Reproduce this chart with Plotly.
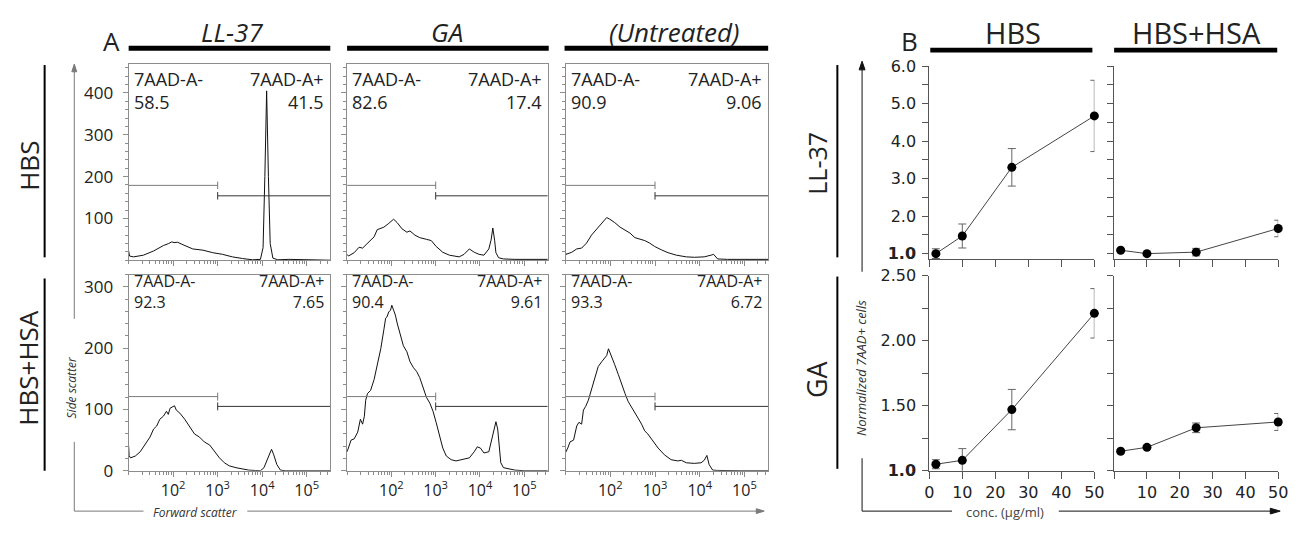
import math
import plotly.graph_objects as go

W, H = 1314, 533          # browser window
PAD = 8                   # default page body margin
FW, FH = W - 2 * PAD, H - 2 * PAD

# ---------------- Panel A data: flow histograms ----------------
# x = forward scatter (log10 decades), y = side-scatter count
ll37_hbs_fsc = [1.00, 1.02, 1.11, 1.33, 1.56, 1.78, 1.90, 1.97, 2.02, 2.10, 2.22, 2.44, 2.67, 2.89, 3.11, 3.33,
                3.56, 3.78, 3.96, 4.02, 4.06, 4.10, 4.14, 4.18, 4.24, 4.35, 4.60, 5.00, 5.53]
ll37_hbs_cnt = [22, 10, 8, 12, 22, 35, 40, 44, 42, 43, 37, 27, 24, 18, 14, 8,
                4, 1, 2, 30, 200, 405, 200, 40, 5, 1, 2, 1, 0]

ga_hbs_fsc = [1.00, 1.03, 1.16, 1.27, 1.35, 1.46, 1.61, 1.68, 1.83, 1.94, 2.05, 2.13, 2.24, 2.35, 2.42, 2.53,
              2.64, 2.79, 2.90, 3.01, 3.16, 3.31, 3.53, 3.64, 3.76, 3.87, 3.98, 4.09, 4.20, 4.25, 4.29, 4.33,
              4.36, 4.42, 4.53, 4.79, 5.53]
ga_hbs_cnt = [14, 10, 18, 31, 29, 41, 56, 73, 79, 88, 98, 90, 75, 67, 70, 60,
              54, 50, 47, 33, 19, 12, 8, 14, 27, 19, 14, 12, 27, 48, 77, 48,
              18, 6, 3, 2, 2]

unt_hbs_fsc = [1.00, 1.01, 1.14, 1.25, 1.36, 1.47, 1.58, 1.70, 1.81, 1.92, 1.99, 2.10, 2.22, 2.33, 2.44, 2.55,
               2.66, 2.77, 2.88, 2.99, 3.14, 3.29, 3.48, 3.70, 3.88, 4.10, 4.25, 4.31, 4.40, 4.62, 5.53]
unt_hbs_cnt = [18, 14, 19, 27, 29, 41, 60, 75, 90, 102, 98, 90, 79, 71, 65, 54,
               50, 47, 41, 33, 25, 18, 12, 8, 7, 8, 12, 14, 3, 2, 2]

ll37_hsa_fsc = [1.00, 1.01, 1.04, 1.15, 1.26, 1.37, 1.48, 1.56, 1.63, 1.70, 1.78, 1.85, 1.89, 1.93, 2.00, 2.03,
                2.07, 2.15, 2.26, 2.37, 2.48, 2.59, 2.70, 2.82, 2.93, 3.04, 3.15, 3.26, 3.41, 3.56, 3.70, 3.85,
                3.96, 4.04, 4.11, 4.21, 4.26, 4.33, 4.41, 4.52, 5.53]
ll37_hsa_cnt = [40, 25, 21, 24, 31, 42, 55, 68, 73, 84, 89, 97, 92, 102, 105, 106,
                99, 94, 84, 73, 60, 55, 47, 42, 31, 21, 13, 8, 5, 3, 1, 0.4,
                0, 5, 18, 35, 26, 10, 1, 0, 0]

ga_hsa_fsc = [1.00, 1.03, 1.09, 1.16, 1.24, 1.30, 1.35, 1.39, 1.42, 1.46, 1.53, 1.61, 1.68, 1.76, 1.83, 1.87,
              1.90, 1.94, 1.98, 2.01, 2.05, 2.09, 2.13, 2.16, 2.20, 2.27, 2.35, 2.42, 2.50, 2.57, 2.64, 2.72,
              2.79, 2.87, 2.94, 3.01, 3.09, 3.16, 3.24, 3.35, 3.46, 3.61, 3.76, 3.87, 3.94, 4.01, 4.09, 4.20,
              4.27, 4.33, 4.36, 4.40, 4.44, 4.47, 4.53, 4.64, 4.79, 5.01, 5.53]
ga_hsa_cnt = [31, 37, 50, 52, 63, 84, 76, 89, 115, 126, 131, 149, 173, 199, 230, 249,
              251, 259, 262, 270, 262, 254, 241, 233, 220, 204, 194, 178, 168, 162, 152, 136,
              120, 110, 97, 79, 58, 37, 24, 18, 16, 18, 21, 31, 39, 37, 29, 31,
              52, 73, 80, 68, 37, 13, 5, 3, 1, 0, 0]

unt_hsa_fsc = [1.00, 1.01, 1.05, 1.10, 1.18, 1.25, 1.30, 1.36, 1.40, 1.45, 1.51, 1.59, 1.66, 1.73, 1.81, 1.87,
               1.92, 1.96, 1.99, 2.04, 2.10, 2.18, 2.25, 2.33, 2.40, 2.47, 2.55, 2.62, 2.70, 2.77, 2.84, 2.96,
               3.07, 3.21, 3.36, 3.51, 3.59, 3.70, 3.88, 4.03, 4.10, 4.16, 4.21, 4.29, 4.40, 4.92, 5.53]
unt_hsa_cnt = [35, 31, 37, 47, 50, 73, 79, 76, 99, 105, 115, 136, 152, 170, 178, 183,
               188, 199, 194, 183, 173, 157, 141, 126, 113, 105, 94, 86, 76, 65, 60, 47,
               37, 26, 18, 16, 17, 13, 12, 13, 17, 25, 10, 1, 0.5, 0, 0]

treatments = ["LL-37", "GA", "(Untreated)"]
buffers = ["HBS", "HBS+HSA"]
pct_neg = [["58.5", "82.6", "90.9"], ["92.3", "90.4", "93.3"]]
pct_pos = [["41.5", "17.4", "9.06"], ["7.65", "9.61", "6.72"]]
gate_bounds = [1.0, 3.0, 5.53]          # FSC decades: gate start, split, end
gate_levels = [[179, 154], [121, 105]]  # y level of 7AAD-A- / 7AAD-A+ gate bars per row
fsc_ticks = [2, 3, 4, 5]
fsc_ticktext = ["10<sup>2</sup>", "10<sup>3</sup>", "10<sup>4</sup>", "10<sup>5</sup>"]

# ---------------- Panel B data ----------------
conc = [2, 10, 25, 50]
ll37_hbs_norm = [1.00, 1.47, 3.30, 4.67]
ll37_hbs_err = [0.13, 0.32, 0.50, 0.95]
ll37_hsa_norm = [1.09, 1.00, 1.04, 1.67]
ll37_hsa_err = [0.03, 0.0, 0.10, 0.22]
ga_hbs_norm = [1.05, 1.08, 1.47, 2.21]
ga_hbs_err = [0.035, 0.09, 0.155, 0.19]
ga_hsa_norm = [1.15, 1.18, 1.33, 1.375]
ga_hsa_err = [0.012, 0.012, 0.037, 0.065]

# ---------------- helpers (window pixel -> paper) ----------------
def X(px):
    return (px - PAD) / FW

def Y(py):
    return 1 - (py - PAD) / FH

def xd(l, r):
    return [X(l), X(r)]

def yd(t, b):
    return [Y(b), Y(t)]

def aname(kind, i):
    return f"{kind}axis" if i == 1 else f"{kind}axis{i}"

def aref(kind, i):
    return kind if i == 1 else f"{kind}{i}"

FONT = "Open Sans"
TXT = "#222222"
fig = go.Figure()
layout = {}

# ---------------- Panel A axes ----------------
col_px = [(125, 329), (346, 549), (567, 772)]
row_px = [(57, 261), (276, 480)]
row_ymax = [469, 320]
row_ticks = [[100, 200, 300, 400], [0, 100, 200, 300]]
minor_fsc = [1.0] + [math.log10(k * 10 ** n) for n in range(1, 6) for k in range(2, 10)
                     if math.log10(k * 10 ** n) < 5.53]

hist_fsc = [[ll37_hbs_fsc, ga_hbs_fsc, unt_hbs_fsc], [ll37_hsa_fsc, ga_hsa_fsc, unt_hsa_fsc]]
hist_cnt = [[ll37_hbs_cnt, ga_hbs_cnt, unt_hbs_cnt], [ll37_hsa_cnt, ga_hsa_cnt, unt_hsa_cnt]]

ax_i = 0
BOX = "#8c8c8c"
for r in range(2):
    for c in range(3):
        ax_i += 1
        t, b = row_px[r]
        l, rr = col_px[c]
        layout[aname("x", ax_i)] = dict(
            domain=xd(l, rr), anchor=aref("y", ax_i), range=[1.0, 5.53],
            showline=True, mirror=True, linecolor=BOX, linewidth=1,
            ticks="outside", ticklen=5, tickcolor=BOX, tickwidth=1,
            tickmode="array", tickvals=fsc_ticks, ticktext=fsc_ticktext,
            showticklabels=(r == 1),
            tickfont=dict(family=FONT, size=16, color=TXT),
            minor=dict(tickmode="array", tickvals=minor_fsc, ticks="outside", ticklen=3, tickcolor=BOX),
            showgrid=False, zeroline=False, fixedrange=True)
        layout[aname("y", ax_i)] = dict(
            domain=yd(t, b), anchor=aref("x", ax_i), range=[0, row_ymax[r]],
            showline=True, mirror=True, linecolor=BOX, linewidth=1,
            ticks="outside", ticklen=5, tickcolor=BOX,
            tickmode="array", tickvals=row_ticks[r],
            showticklabels=(c == 0), ticklabelstandoff=6,
            tickfont=dict(family=FONT, size=17, color=TXT),
            minor=dict(dtick=20, ticks="outside", ticklen=3, tickcolor=BOX),
            showgrid=False, zeroline=False, fixedrange=True)
        xr, yr = aref("x", ax_i), aref("y", ax_i)
        fig.add_trace(go.Scatter(x=hist_fsc[r][c], y=hist_cnt[r][c], mode="lines",
                                 line=dict(color="#111111", width=1), xaxis=xr, yaxis=yr,
                                 hoverinfo="skip"))
        tick_h = 9 if r == 0 else 6.5
        # 7AAD-A- gate
        fig.add_trace(go.Scatter(x=gate_bounds[0:2], y=[gate_levels[r][0]] * 2, mode="lines",
                                 line=dict(color="#7a7a7a", width=1), xaxis=xr, yaxis=yr,
                                 error_y=dict(type="data", array=[0, tick_h], color="#7a7a7a",
                                              thickness=1, width=0), hoverinfo="skip"))
        # 7AAD-A+ gate
        fig.add_trace(go.Scatter(x=gate_bounds[1:3], y=[gate_levels[r][1]] * 2, mode="lines",
                                 line=dict(color="#333333", width=1), xaxis=xr, yaxis=yr,
                                 error_y=dict(type="data", array=[tick_h, 0], color="#333333",
                                              thickness=1, width=0), hoverinfo="skip"))

# ---------------- Panel B axes ----------------
b_cols = [(935, 1102), (1122, 1288)]
b_rows = [(59, 260), (277, 480)]
b_yrange = [[0.85, 6.0], [1.0, 2.5]]
b_yticks = [[1.0, 2.0, 3.0, 4.0, 5.0, 6.0], [1.0, 1.5, 2.0, 2.5]]
b_yticktext = [["<b>1.0</b>", "2.0", "3.0", "4.0", "5.0", "6.0"],
               ["<b>1.0</b>", "1.50", "2.00", "2.50"]]
b_yminor = [0.5, 0.25]
b_xticks = [[0, 10, 20, 30, 40, 50], [10, 20, 30, 40, 50]]
b_series = [[(ll37_hbs_norm, ll37_hbs_err), (ll37_hsa_norm, ll37_hsa_err)],
            [(ga_hbs_norm, ga_hbs_err), (ga_hsa_norm, ga_hsa_err)]]
AXB = "#555555"
for r in range(2):
    for c in range(2):
        ax_i += 1
        t, b = b_rows[r]
        l, rr = b_cols[c]
        xt = b_xticks[c]
        layout[aname("x", ax_i)] = dict(
            domain=xd(l, rr), anchor=aref("y", ax_i), range=[0, 50],
            showline=True, linecolor=AXB, linewidth=1,
            ticks="outside", ticklen=7, tickcolor=AXB,
            tickmode="array", tickvals=xt, ticktext=[str(v) for v in xt], showticklabels=(r == 1),
            tickfont=dict(family="DejaVu Sans", size=16, color=TXT),
            minor=dict(dtick=10, tick0=0, ticks="outside", ticklen=7, tickcolor=AXB),
            showgrid=False, zeroline=False, fixedrange=True)
        layout[aname("y", ax_i)] = dict(
            domain=yd(t, b), anchor=aref("x", ax_i), range=b_yrange[r],
            showline=True, linecolor=AXB, linewidth=1,
            ticks="outside", ticklen=6, tickcolor=AXB,
            tickmode="array", tickvals=b_yticks[r], ticktext=b_yticktext[r],
            showticklabels=(c == 0), ticklabelstandoff=3,
            tickfont=dict(family="DejaVu Sans", size=16, color=TXT),
            minor=dict(dtick=b_yminor[r], tick0=1.0, ticks="outside", ticklen=6, tickcolor=AXB),
            showgrid=False, zeroline=False, fixedrange=True)
        vals, errs = b_series[r][c]
        fig.add_trace(go.Scatter(x=conc, y=vals, mode="lines+markers",
                                 line=dict(color="#444444", width=1),
                                 marker=dict(size=9, color="black"),
                                 error_y=dict(type="data", array=errs, color="#666666",
                                              thickness=1, width=4),
                                 xaxis=aref("x", ax_i), yaxis=aref("y", ax_i),
                                 cliponaxis=False, hoverinfo="skip"))

# ---------------- shapes ----------------
shapes = []

def rect(l, t, r, b, color="black"):
    shapes.append(dict(type="rect", xref="paper", yref="paper", x0=X(l), x1=X(r), y0=Y(b), y1=Y(t),
                       fillcolor=color, line=dict(width=0)))

def line(x0, y0, x1, y1, color="black", width=1):
    shapes.append(dict(type="line", xref="paper", yref="paper", x0=X(x0), y0=Y(y0), x1=X(x1), y1=Y(y1),
                       line=dict(color=color, width=width)))

def tri(points, color):
    path = "M " + " L ".join(f"{X(p[0])},{Y(p[1])}" for p in points) + " Z"
    shapes.append(dict(type="path", xref="paper", yref="paper", path=path,
                       fillcolor=color, line=dict(color=color, width=1)))

# header bars
for (l, r) in [(125, 329), (346, 550), (566, 772)]:
    rect(l, 38, r, 43)
for (l, r) in [(936, 1100), (1122, 1287)]:
    rect(l, 40, r, 45)
# row bars
for (t, b) in [(58, 258), (280, 480)]:
    line(40, t, 40, b, width=2)
for (t, b) in [(58, 258), (278, 478)]:
    line(842, t, 842, b, width=2)
# Panel A axis arrows
GA_ = "#7a7a7a"
line(70, 64, 70, 322, GA_)
line(70, 450, 70, 522, GA_)
line(70, 522, 140, 522, GA_)
line(245, 522, 762, 522, GA_)
tri([(70, 57), (67.5, 65), (72.5, 65)], GA_)
tri([(768, 522), (760, 519.5), (760, 524.5)], GA_)
# Panel B axis arrows
line(867, 62, 867, 273, "#111111")
line(867, 467, 867, 522, "#111111")
line(867, 522, 958, 522, "#111111")
line(1066, 522, 1282, 522, "#111111")
tri([(867, 54), (864, 63), (870, 63)], "#111111")
tri([(1290, 522), (1280, 519), (1280, 525)], "#111111")

# ---------------- annotations ----------------
ann = []

def text(s, x, y, size, xanchor="center", yanchor="middle", angle=0, italic=False, color=TXT,
         family=FONT, align="center"):
    ann.append(dict(text=s, x=X(x), y=Y(y), xref="paper", yref="paper", showarrow=False,
                    xanchor=xanchor, yanchor=yanchor, textangle=angle, align=align,
                    font=dict(family=family, size=size, color=color, style="italic" if italic else "normal")))

text("A", 108, 33, 26)
for name, cx in zip(treatments, [230, 447, 677]):
    text(name, cx, 24, 26, italic=True)
text(buffers[0], 24, 163, 26, angle=-90)
text(buffers[1], 23, 373, 26, angle=-90)

pct_block_y = [84, 294]      # vertical centre of the two-line gate label blocks
pct_size = [18, 16]
for r in range(2):
    for c in range(3):
        l, rr = col_px[c]
        text("7AAD-A-<br>" + pct_neg[r][c], l + 3, pct_block_y[r], pct_size[r],
             xanchor="left", align="left")
        text("7AAD-A+<br>" + pct_pos[r][c], rr - 4, pct_block_y[r], pct_size[r],
             xanchor="right", align="right")

text("Side scatter", 67, 393, 12, angle=-90, italic=True, color="#333333")
text("Forward scatter", 193, 523, 12, italic=True, color="#333333")

text("B", 915, 33, 26)
text(buffers[0], 1020, 24, 29)
text(buffers[1], 1205, 24, 29)
text("LL-37", 822, 160, 25, angle=-90)
text("GA", 821, 385, 27, angle=-90)
text("Normalized 7AAD+ cells", 866, 373, 13, angle=-90, italic=True, color="#333333")
text("conc. (µg/ml)", 1012, 523, 13, color="#444444")

fig.update_layout(**layout)
fig.update_layout(width=FW, height=FH, margin=dict(l=0, r=0, t=0, b=0),
                  paper_bgcolor="white", plot_bgcolor="white", showlegend=False,
                  shapes=shapes, annotations=ann)
fig.write_html("out.html")
